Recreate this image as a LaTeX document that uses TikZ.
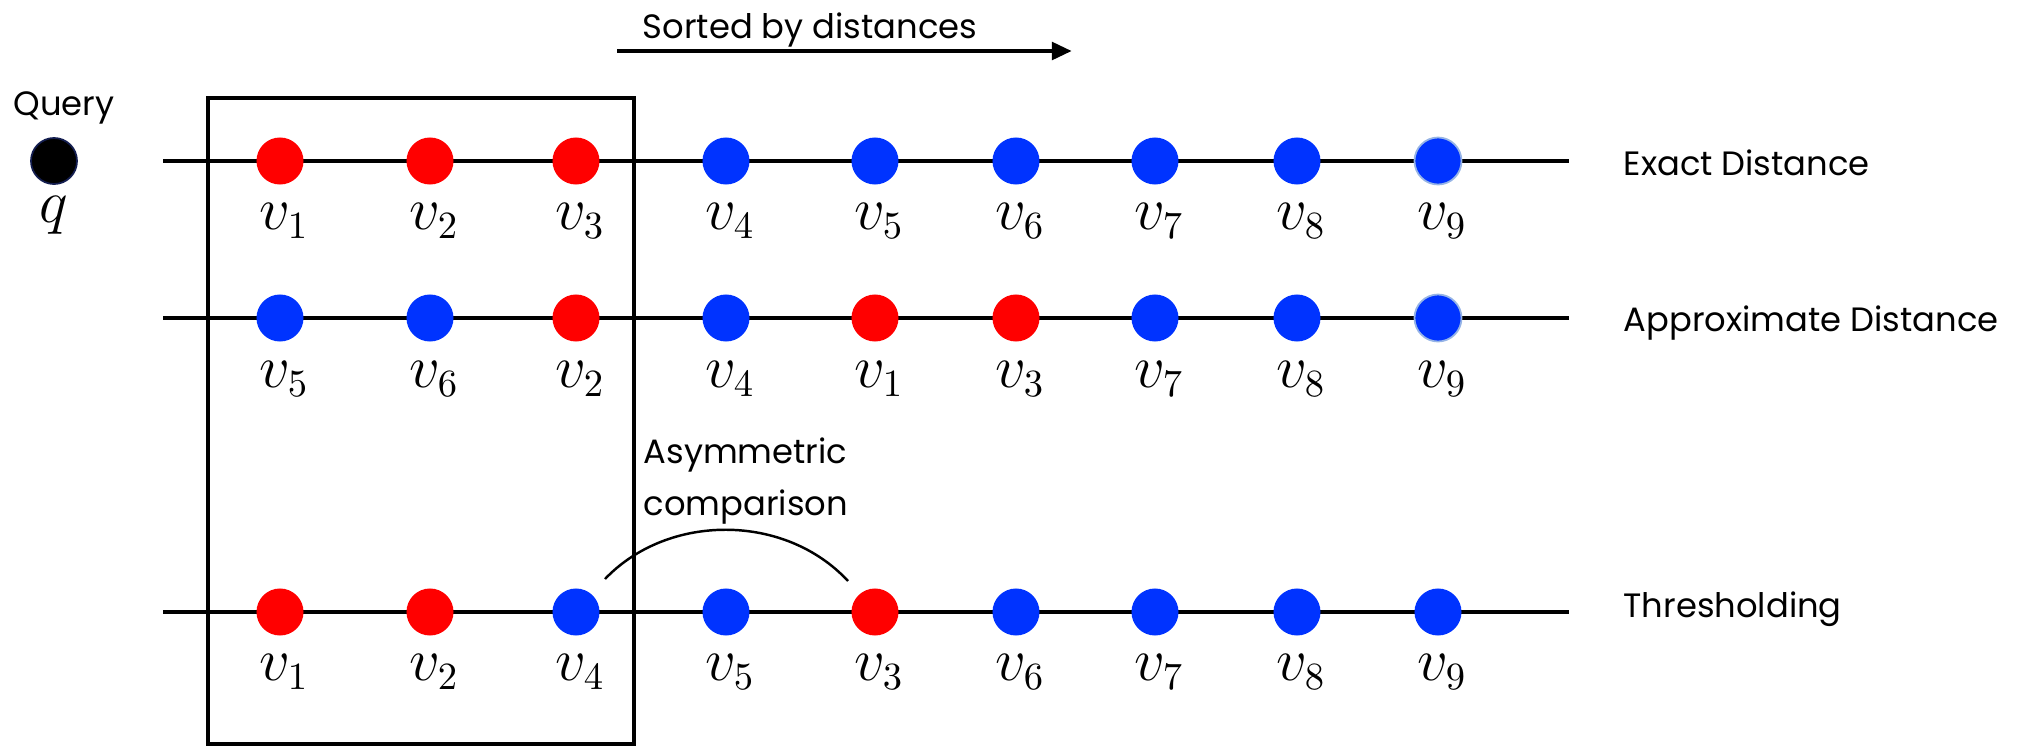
\documentclass[tikz,border=0pt]{standalone}
\usepackage{fontspec}
\setmainfont{Poppins}
\usetikzlibrary{arrows.meta}
\definecolor{dotred}{RGB}{255,0,0}
\definecolor{dotblue}{RGB}{0,51,255}
\definecolor{rimblue}{RGB}{150,180,230}
\definecolor{navy}{RGB}{20,30,80}
\begin{document}
\begin{tikzpicture}[x=0.01cm,y=-0.01cm,
  axis/.style={line width=1.4pt},
  dot/.style={circle, inner sep=0pt, minimum size=0.47cm},
  rdot/.style={dot, fill=dotred},
  bdot/.style={dot, fill=dotblue},
  edot/.style={dot, fill=dotblue, draw=rimblue, line width=0.5pt},
  vlab/.style={font=\fontsize{16}{18}\selectfont, inner sep=0pt},
  txt/.style={font=\fontsize{9.6}{11}\selectfont, inner sep=0pt, anchor=base west},
]
\useasboundingbox (0,0) rectangle (2017,748);

% axes
\coordinate (l1s) at (163,161); \coordinate (l1e) at (1569,161);
\coordinate (l2s) at (163,318); \coordinate (l2e) at (1569,318);
\coordinate (l3s) at (163,612); \coordinate (l3e) at (1569,612);
\draw[axis] (l1s) -- (l1e);
\draw[axis] (l2s) -- (l2e);
\draw[axis] (l3s) -- (l3e);

% selection box
\node (box) [draw, line width=1.3pt, minimum width=4.26cm, minimum height=6.46cm, inner sep=0pt] at (421,421) {};

% query
\node[dot, fill=black, draw=navy, line width=0.5pt, minimum size=0.46cm] (q) at (54,161) {};
\node[txt, anchor=base] (qt) at (64,115) {Query};
\node[vlab] (ql) at (54,215) {$q$};

% row 1: exact
\foreach \x/\c/\l [count=\i] in {280/rdot/1,430/rdot/2,576/rdot/3,726/bdot/4,875/bdot/5,1016/bdot/6,1155/bdot/7,1297/bdot/8,1438/edot/9}{
  \node[\c] (a\i) at (\x,161) {};
  \node[vlab] (la\i) at (\x+4,221) {$v_{\l}$};
}
% row 2: approximate
\foreach \x/\c/\l [count=\i] in {280/bdot/5,430/bdot/6,576/rdot/2,726/bdot/4,875/rdot/1,1016/rdot/3,1155/bdot/7,1297/bdot/8,1438/edot/9}{
  \node[\c] (b\i) at (\x,318) {};
  \node[vlab] (lb\i) at (\x+4,379) {$v_{\l}$};
}
% row 3: thresholding
\foreach \x/\c/\l [count=\i] in {280/rdot/1,430/rdot/2,576/bdot/4,726/bdot/5,875/rdot/3,1016/bdot/6,1155/bdot/7,1297/bdot/8,1438/bdot/9}{
  \node[\c] (c\i) at (\x,612) {};
  \node[vlab] (lc\i) at (\x+4,672) {$v_{\l}$};
}

% sorted arrow
\coordinate (arS) at (617,51);
\coordinate (arE) at (1072,51);
\draw[line width=1.4pt, -{Triangle[length=0.2cm,width=0.17cm]}] (arS) -- (arE);
\node[txt, anchor=base] (sorted) at (810,38) {Sorted by distances};

% row labels
\node[txt] (ex) at (1623,175) {Exact Distance};
\node[txt] (ap) at (1623,331) {Approximate Distance};
\node[txt] (th) at (1623,617) {Thresholding};

% asymmetric comparison
\node[txt] (as1) at (643,463) {Asymmetric};
\node[txt] (as2) at (643,515) {comparison};
\coordinate (acS) at (605,579);
\coordinate (acE) at (848,581);
\draw[line width=0.7pt] (acS) .. controls (668,513) and (785,513) .. (acE);
\end{tikzpicture}
\end{document}
